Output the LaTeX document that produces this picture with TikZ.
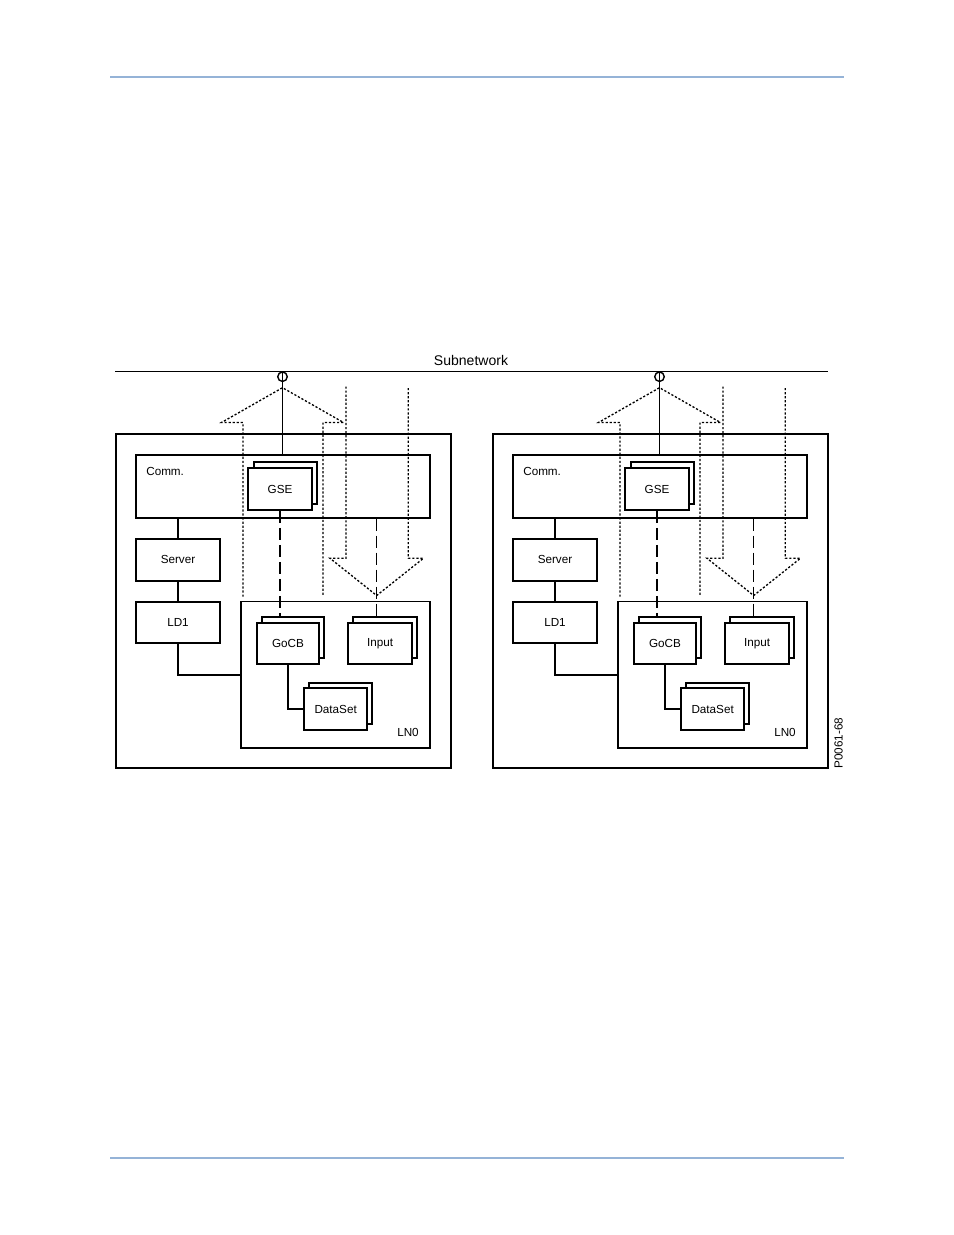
\documentclass[tikz,border=0pt]{standalone}
\usepackage{fontspec}
\setmainfont{Liberation Sans}
\definecolor{rulecol}{HTML}{95B3D7}
\newdimen\px
\px=0.6415pt
\newcommand\lbl{\fontsize{7.5}{8.5}\selectfont}
\newcommand\mkbox[6]{\node[#6, minimum width={(#4-#2)*\px}, minimum height={(#5-#3)*\px}] (#1) at ({(#2+#4)/2},{(#3+#5)/2}) {};}
\newcommand\mkboxt[7]{\node[#6, minimum width={(#4-#2)*\px}, minimum height={(#5-#3)*\px}] (#1) at ({(#2+#4)/2},{(#3+#5)/2}) {#7};}
\begin{document}
\begin{tikzpicture}[x=0.6415pt,y=-0.6415pt,
  box/.style={draw, line width=1.1pt, inner sep=0pt, font=\lbl},
  wbox/.style={box, fill=white},
  dotln/.style={line width=0.85pt, dash pattern=on 1.4pt off 1.2pt},
  dashln/.style={line width=1pt, dash pattern=on 7.7pt off 3.2pt},
  solid line/.style={line width=1.1pt},
  txt/.style={font=\lbl, inner sep=0pt}]
\useasboundingbox (0,0) rectangle (954,1235);
% page rules
\draw[rulecol, line width=1.1pt] (110,76.7) -- (844,76.7);
\draw[rulecol, line width=1.1pt] (110,1158) -- (844,1158);
% subnetwork
\draw[line width=0.8pt] (115,371.7) -- (828.3,371.7);
\node[font=\fontsize{9}{11}\selectfont, inner sep=0pt, anchor=base] (subnet) at (471,365.5) {Subnetwork};
\foreach \s/\dx in {a/0,b/377}{
\begin{scope}[shift={(\dx,0)}]
  \mkbox{outer\s}{116}{434}{450.7}{768.3}{box}
  \mkbox{comm\s}{136}{455}{430}{517.7}{box}
  \node[txt, anchor=base west] (commlbl\s) at (146,475) {Comm.};
  % up arrow (dotted)
  \draw[dotln] (243,596.7) -- (243,422.5) -- (221.5,422.5) -- (282.5,387.7) -- (343.5,422.5) -- (323,422.5) -- (323,596.7);
  % down arrow (dotted)
  \coordinate (dn\s) at (376.7,595.5);
  \draw[dotln] (346,386.5) -- (346,558.3) -- (330,558.3) -- (dn\s) -- (423.4,558.3) -- (408.3,558.3) -- (408.3,386.5);
  % tap on subnetwork
  \node[draw, circle, minimum size={9.5*\px}, inner sep=0pt, line width=0.9pt] (tap\s) at (282.5,376.7) {};
  \draw[solid line] (tap\s.north) -- (tap\s.north |- comm\s.north);
  % GSE
  \mkbox{gseb\s}{254.3}{462.3}{317.3}{504.3}{wbox}
  \mkboxt{gsef\s}{248.3}{468.3}{311.7}{510}{wbox}{GSE}
  % Server, LD1
  \mkboxt{server\s}{136}{539}{220}{580.7}{wbox}{Server}
  \mkboxt{ld\s}{136}{601.7}{220}{643.3}{wbox}{LD1}
  % LN0
  \mkbox{ln\s}{241}{601.5}{430}{748.3}{box}
  \node[txt, anchor=base] (lnlbl\s) at (408,736) {LN0};
  % GoCB
  \mkbox{gocbb\s}{261.7}{617.3}{324.3}{658.3}{wbox}
  \mkboxt{gocbf\s}{256.7}{622.7}{319.3}{664.3}{wbox}{GoCB}
  % Input
  \mkbox{inb\s}{353.3}{617.3}{416.7}{658.3}{wbox}
  \mkboxt{inf\s}{348.3}{622.7}{411.7}{664.3}{wbox}{Input}
  % DataSet
  \mkbox{dsb\s}{309}{682.7}{372.3}{724}{wbox}
  \mkboxt{dsf\s}{304}{688.3}{367.3}{730}{wbox}{DataSet}
  % connectors
  \draw[solid line] (comm\s.south -| server\s.north) -- (server\s.north);
  \draw[solid line] (server\s.south) -- (ld\s.north);
  \draw[solid line] (ld\s.south) |- (ln\s.west);
  \draw[solid line] (gocbf\s.south) |- (dsf\s.west);
  \draw[dashln] (gsef\s.south) -- (gsef\s.south |- gocbb\s.north);
  \draw[dashln] (dn\s |- comm\s.south) -- (dn\s |- inb\s.north);
\end{scope}
}
\node[txt, rotate=90] (fig) at (838.5,743) {P0061-68};
\end{tikzpicture}
\end{document}
